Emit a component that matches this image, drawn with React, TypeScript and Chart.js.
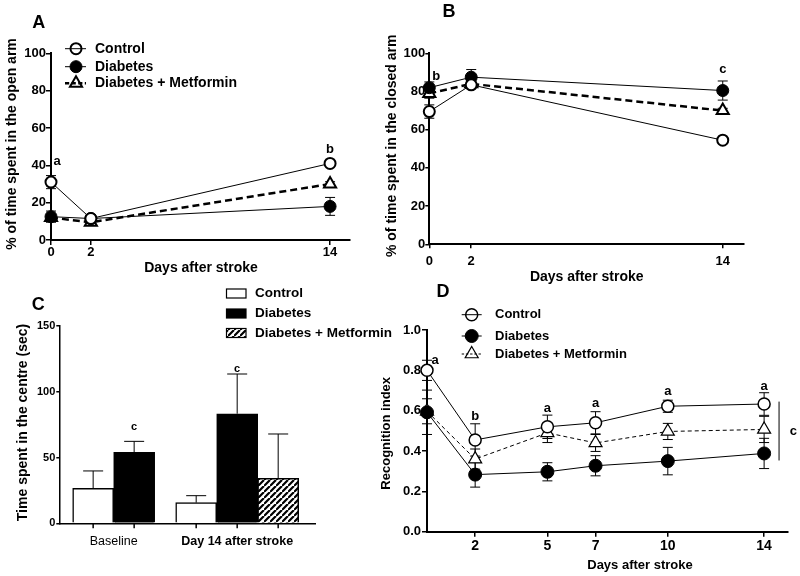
import React, { useEffect, useRef } from 'react';
import { Chart, registerables } from 'chart.js';

Chart.register(...registerables);

const FONT = "'Liberation Sans', Arial, Helvetica, sans-serif";
const W = 800;
const H = 576;

const seriesNames = ['Control', 'Diabetes', 'Diabetes + Metformin'];

// ---------- Panel A: % time in open arm ----------
const daysMaze = [0, 2, 14];
const openArmControl = [31, 11.5, 41];
const openArmControlErr = [3.5, 1.5, 1.2];
const openArmDiabetes = [12.5, 11.5, 18];
const openArmDiabetesErr = [3, 2, 4.8];
const openArmMetformin = [12, 9.5, 30];
const openArmMetforminErr = [1.5, 1.5, 1.2];
const lettersA = [
  { x: 0, y: 42, text: 'a', dx: 6 },
  { x: 14, y: 48.5, text: 'b' },
];

// ---------- Panel B: % time in closed arm ----------
const closedArmControl = [69.5, 83.5, 54.5];
const closedArmControlErr = [3.5, 2, 1.2];
const closedArmDiabetes = [82, 87.5, 80.5];
const closedArmDiabetesErr = [3, 4, 5];
const closedArmMetformin = [79, 84, 70];
const closedArmMetforminErr = [2.5, 2.5, 1.2];
const lettersB = [
  { x: 0, y: 88, text: 'b', dx: 7 },
  { x: 14, y: 91.6, text: 'c' },
];

// ---------- Panel C: time in centre ----------
const centreGroups = ['Baseline', 'Day 14 after stroke'];
const centreControl = [26.6, 15.7];
const centreControlErr = [13.2, 5.3];
const centreDiabetes = [54, 83.3];
const centreDiabetesErr = [8.3, 30.2];
const centreMetformin = [null, 34.2];
const centreMetforminErr = [null, 33.7];
const lettersC = [
  { group: 0, series: 1, y: 73, text: 'c' },
  { group: 1, series: 1, y: 117, text: 'c' },
];

// ---------- Panel D: recognition index ----------
const daysRecognition = [0, 2, 5, 7, 10, 14];
const recogControl = [0.8, 0.455, 0.52, 0.54, 0.622, 0.633];
const recogControlErr = [0.05, 0.08, 0.058, 0.055, 0.03, 0.056];
const recogDiabetes = [0.592, 0.283, 0.297, 0.327, 0.35, 0.388];
const recogDiabetesErr = [0.11, 0.062, 0.045, 0.05, 0.068, 0.075];
const recogMetformin = [0.597, 0.36, 0.49, 0.44, 0.497, 0.507];
const recogMetforminErr = [0.062, 0.05, 0.048, 0.042, 0.04, 0.065];
const lettersD = [
  { x: 0, y: 0.851, text: 'a', dx: 8 },
  { x: 2, y: 0.574, text: 'b' },
  { x: 5, y: 0.61, text: 'a' },
  { x: 7, y: 0.638, text: 'a' },
  { x: 10, y: 0.697, text: 'a' },
  { x: 14, y: 0.722, text: 'a' },
];
const bracketD = { x: 14.62, from: 0.353, to: 0.645, textX: 15.21, textY: 0.499, text: 'c' };

// ---------- helpers ----------
type Shape = 'circle' | 'triangle';
interface SeriesStyle { filled: boolean; shape: Shape; radius: number; pointBorder: number; lineWidth: number; dash: number[] }
interface TextItem { text: string; x: number; y: number; size: number; rotate?: boolean; bold?: boolean }
interface Area { l: number; t: number; r: number; b: number }

function drawText(ctx: CanvasRenderingContext2D, t: TextItem, align: CanvasTextAlign = 'center') {
  ctx.save();
  ctx.font = `${t.bold === false ? '' : 'bold '}${t.size}px ${FONT}`;
  ctx.fillStyle = '#000';
  ctx.textAlign = align;
  ctx.textBaseline = 'middle';
  ctx.translate(t.x, t.y);
  if (t.rotate) ctx.rotate(-Math.PI / 2);
  ctx.fillText(t.text, 0, 0);
  ctx.restore();
}

function drawMarker(ctx: CanvasRenderingContext2D, st: SeriesStyle, x: number, y: number, hollow: boolean) {
  ctx.save();
  ctx.setLineDash([]);
  ctx.beginPath();
  if (st.shape === 'circle') {
    ctx.arc(x, y, st.radius, 0, Math.PI * 2);
  } else {
    for (let k = 0; k < 3; k++) {
      const a = (k * 2 * Math.PI) / 3;
      const px = x + Math.sin(a) * st.radius;
      const py = y - Math.cos(a) * st.radius;
      if (k === 0) ctx.moveTo(px, py);
      else ctx.lineTo(px, py);
    }
    ctx.closePath();
  }
  if (st.filled) {
    ctx.fillStyle = '#000';
    ctx.fill();
  } else if (!hollow) {
    ctx.fillStyle = '#fff';
    ctx.fill();
  }
  ctx.lineWidth = st.pointBorder;
  ctx.strokeStyle = '#000';
  ctx.stroke();
  ctx.restore();
}

function padFor(area: Area, yW: number, xH: number) {
  return { left: area.l - yW, top: area.t, right: W - area.r, bottom: H - area.b - xH };
}

const boldFont = (size: number) => ({ family: FONT, size, weight: 'bold' as const });

const errorBarPlugin = {
  id: 'errorBars',
  beforeDatasetsDraw(chart: any) {
    const ctx: CanvasRenderingContext2D = chart.ctx;
    const ys = chart.scales.y;
    chart.data.datasets.forEach((ds: any, di: number) => {
      if (!ds.errorBars) return;
      const meta = chart.getDatasetMeta(di);
      const half = ds.capHalf ?? 5;
      ctx.save();
      ctx.strokeStyle = '#000';
      ctx.lineWidth = ds.errorWidth ?? 1;
      ctx.setLineDash([]);
      meta.data.forEach((el: any, i: number) => {
        const v = ds.data[i].y;
        const e = ds.errorBars[i];
        if (v == null || e == null) return;
        const x = el.x;
        const yTop = ys.getPixelForValue(v + e);
        const yBot = ys.getPixelForValue(ds.errorUpOnly ? v : v - e);
        ctx.beginPath();
        ctx.moveTo(x, yTop);
        ctx.lineTo(x, yBot);
        ctx.moveTo(x - half, yTop);
        ctx.lineTo(x + half, yTop);
        if (!ds.errorUpOnly) {
          ctx.moveTo(x - half, yBot);
          ctx.lineTo(x + half, yBot);
        }
        ctx.stroke();
      });
      ctx.restore();
    });
  },
};

function baseOptions(padding: any, scales: any) {
  return {
    responsive: false,
    maintainAspectRatio: false,
    animation: false,
    events: [],
    devicePixelRatio: 1,
    layout: { padding },
    plugins: { legend: { display: false }, tooltip: { enabled: false }, title: { display: false } },
    scales,
  };
}

interface LinePanelSpec {
  area: Area; yW: number; xH: number;
  xMax: number; xTicks: number[]; xFont: number; xTickLen: number; xPad: number;
  yMax: number; yStep: number; yFont: number; yTickLen: number; yPad: number; yDecimals?: number;
  axisWidth: number;
  days: number[]; values: number[][]; errors: number[][]; styles: SeriesStyle[]; capHalf: number;
  letters: { x: number; y: number; text: string; dx?: number }[]; letterSize: number;
  texts: TextItem[];
  legend?: { x0: number; x1: number; mx: number; tx: number; ys: number[]; size: number };
  bracket?: typeof bracketD;
}

function buildLine(canvas: HTMLCanvasElement, p: LinePanelSpec): Chart {
  const datasets = p.values.map((vals, si) => {
    const st = p.styles[si];
    return {
      label: seriesNames[si],
      data: p.days.map((d, i) => ({ x: d, y: vals[i] })),
      errorBars: p.errors[si],
      capHalf: p.capHalf,
      borderColor: '#000',
      borderWidth: st.lineWidth,
      borderDash: st.dash,
      pointStyle: st.shape,
      pointRadius: st.radius,
      pointBorderWidth: st.pointBorder,
      pointBackgroundColor: st.filled ? '#000' : '#fff',
      pointBorderColor: '#000',
      fill: false,
      tension: 0,
      clip: false,
    };
  });

  const decor = {
    id: 'decor',
    afterDraw(chart: any) {
      const ctx: CanvasRenderingContext2D = chart.ctx;
      const xs = chart.scales.x;
      const ys = chart.scales.y;
      p.texts.forEach((t) => drawText(ctx, t));
      p.letters.forEach((l) =>
        drawText(ctx, { text: l.text, x: xs.getPixelForValue(l.x) + (l.dx ?? 0), y: ys.getPixelForValue(l.y), size: p.letterSize }),
      );
      if (p.bracket) {
        const b = p.bracket;
        const bx = xs.getPixelForValue(b.x);
        ctx.save();
        ctx.strokeStyle = '#000';
        ctx.lineWidth = 1;
        ctx.beginPath();
        ctx.moveTo(bx, ys.getPixelForValue(b.to));
        ctx.lineTo(bx, ys.getPixelForValue(b.from));
        ctx.stroke();
        ctx.restore();
        drawText(ctx, { text: b.text, x: xs.getPixelForValue(b.textX), y: ys.getPixelForValue(b.textY), size: p.letterSize });
      }
      const lg = p.legend;
      if (!lg) return;
      p.styles.forEach((st, si) => {
        const y = lg.ys[si];
        ctx.save();
        ctx.strokeStyle = '#000';
        ctx.lineWidth = st.lineWidth;
        ctx.setLineDash(st.dash.length ? st.dash.map((d) => d * 0.6) : []);
        ctx.beginPath();
        ctx.moveTo(lg.x0, y);
        ctx.lineTo(lg.x1, y);
        ctx.stroke();
        ctx.restore();
        drawMarker(ctx, st, lg.mx, y, true);
        drawText(ctx, { text: seriesNames[si], x: lg.tx, y, size: lg.size }, 'left');
      });
    },
  };

  const yTicks: any = { stepSize: p.yStep, font: boldFont(p.yFont), color: '#000', padding: p.yPad };
  if (p.yDecimals !== undefined) {
    const dec = p.yDecimals;
    yTicks.callback = (v: number) => Number(v).toFixed(dec);
  }

  const scales = {
    x: {
      type: 'linear',
      min: 0,
      max: p.xMax,
      afterBuildTicks: (s: any) => {
        s.ticks = p.xTicks.map((v) => ({ value: v }));
      },
      afterFit: (s: any) => {
        s.height = p.xH;
      },
      ticks: { font: boldFont(p.xFont), color: '#000', padding: p.xPad, maxRotation: 0, autoSkip: false },
      grid: { display: true, drawOnChartArea: false, drawTicks: true, tickLength: p.xTickLen, color: '#000', lineWidth: 1.5 },
      border: { display: true, color: '#000', width: p.axisWidth },
    },
    y: {
      type: 'linear',
      min: 0,
      max: p.yMax,
      afterFit: (s: any) => {
        s.width = p.yW;
      },
      ticks: yTicks,
      grid: { display: true, drawOnChartArea: false, drawTicks: true, tickLength: p.yTickLen, color: '#000', lineWidth: 1.5 },
      border: { display: true, color: '#000', width: p.axisWidth },
    },
  };

  return new Chart(canvas, {
    type: 'line',
    data: { datasets } as any,
    options: baseOptions(padFor(p.area, p.yW, p.xH), scales) as any,
    plugins: [errorBarPlugin, decor],
  });
}

const styleMaze: SeriesStyle[] = [
  { filled: false, shape: 'circle', radius: 5.5, pointBorder: 2, lineWidth: 1, dash: [] },
  { filled: true, shape: 'circle', radius: 6, pointBorder: 1, lineWidth: 1, dash: [] },
  { filled: false, shape: 'triangle', radius: 7, pointBorder: 2, lineWidth: 2.5, dash: [7, 4] },
];

const styleRecog: SeriesStyle[] = [
  { filled: false, shape: 'circle', radius: 6, pointBorder: 1.5, lineWidth: 1, dash: [] },
  { filled: true, shape: 'circle', radius: 6.5, pointBorder: 1, lineWidth: 1, dash: [] },
  { filled: false, shape: 'triangle', radius: 7.5, pointBorder: 1.2, lineWidth: 1, dash: [4, 3] },
];

function buildA(canvas: HTMLCanvasElement) {
  return buildLine(canvas, {
    area: { l: 51, t: 53.3, r: 350, b: 240 }, yW: 51, xH: 30,
    xMax: 15, xTicks: daysMaze, xFont: 13, xTickLen: 5, xPad: 0,
    yMax: 100, yStep: 20, yFont: 13, yTickLen: 5, yPad: 0,
    axisWidth: 2,
    days: daysMaze,
    values: [openArmControl, openArmDiabetes, openArmMetformin],
    errors: [openArmControlErr, openArmDiabetesErr, openArmMetforminErr],
    styles: styleMaze, capHalf: 5,
    letters: lettersA, letterSize: 13,
    texts: [
      { text: 'A', x: 38.8, y: 23, size: 18 },
      { text: '% of time spent in the open arm', x: 12, y: 144, size: 14, rotate: true },
      { text: 'Days after stroke', x: 201, y: 268.3, size: 14 },
    ],
    legend: { x0: 65, x1: 86, mx: 76, tx: 95, ys: [48.7, 66.7, 83.3], size: 14 },
  });
}

function buildB(canvas: HTMLCanvasElement) {
  return buildLine(canvas, {
    area: { l: 429.3, t: 53.3, r: 743.7, b: 244.3 }, yW: 40, xH: 30,
    xMax: 15, xTicks: daysMaze, xFont: 13, xTickLen: 4, xPad: 5,
    yMax: 100, yStep: 20, yFont: 13, yTickLen: 4, yPad: 0,
    axisWidth: 2,
    days: daysMaze,
    values: [closedArmControl, closedArmDiabetes, closedArmMetformin],
    errors: [closedArmControlErr, closedArmDiabetesErr, closedArmMetforminErr],
    styles: styleMaze, capHalf: 5,
    letters: lettersB, letterSize: 13,
    texts: [
      { text: 'B', x: 449, y: 12.5, size: 18 },
      { text: '% of time spent in the closed arm', x: 392.5, y: 145.8, size: 14, rotate: true },
      { text: 'Days after stroke', x: 586.7, y: 276.7, size: 14 },
    ],
  });
}

function buildD(canvas: HTMLCanvasElement) {
  return buildLine(canvas, {
    area: { l: 427, t: 330, r: 788.2, b: 531.7 }, yW: 40, xH: 30,
    xMax: 15, xTicks: daysRecognition.filter((d) => d > 0), xFont: 14, xTickLen: 5, xPad: 1,
    yMax: 1, yStep: 0.2, yFont: 13, yTickLen: 5, yPad: 1, yDecimals: 1,
    axisWidth: 2,
    days: daysRecognition,
    values: [recogControl, recogDiabetes, recogMetformin],
    errors: [recogControlErr, recogDiabetesErr, recogMetforminErr],
    styles: styleRecog, capHalf: 5,
    letters: lettersD, letterSize: 13,
    bracket: bracketD,
    texts: [
      { text: 'D', x: 443, y: 291.7, size: 18 },
      { text: 'Recognition index', x: 386.7, y: 433.3, size: 13, rotate: true },
      { text: 'Days after stroke', x: 640, y: 565, size: 13 },
    ],
    legend: { x0: 461.7, x1: 481.7, mx: 471.7, tx: 495, ys: [314.7, 336, 354], size: 13 },
  });
}

function makeHatch(): CanvasPattern | string {
  const s = 6;
  const c = document.createElement('canvas');
  c.width = s;
  c.height = s;
  const g = c.getContext('2d');
  if (!g) return '#888';
  g.fillStyle = '#fff';
  g.fillRect(0, 0, s, s);
  g.strokeStyle = '#000';
  g.lineWidth = 2.2;
  g.beginPath();
  g.moveTo(-1, s + 1);
  g.lineTo(s + 1, -1);
  g.moveTo(-s, s);
  g.lineTo(0, 0);
  g.moveTo(s, 2 * s);
  g.lineTo(2 * s, s);
  g.stroke();
  return g.createPattern(c, 'repeat') || '#888';
}

function buildC(canvas: HTMLCanvasElement) {
  const area = { l: 59.3, t: 326, r: 315, b: 523.3 };
  const yW = 40;
  const xH = 30;
  const hatch = makeHatch();
  const fills: any[] = ['#fff', '#000', hatch];
  const vals = [centreControl, centreDiabetes, centreMetformin];
  const errs = [centreControlErr, centreDiabetesErr, centreMetforminErr];
  const datasets = vals.map((v, si) => ({
    label: seriesNames[si],
    data: v.map((y, i) => ({ x: i, y })),
    errorBars: errs[si],
    errorUpOnly: true,
    capHalf: 10,
    backgroundColor: fills[si],
    borderColor: '#000',
    borderWidth: 1.5,
    borderSkipped: 'bottom',
    barThickness: 41,
    skipNull: true,
  }));

  const decor = {
    id: 'decorC',
    afterDraw(chart: any) {
      const ctx: CanvasRenderingContext2D = chart.ctx;
      const ys = chart.scales.y;
      const base = ys.getPixelForValue(0);
      ctx.save();
      ctx.strokeStyle = '#000';
      ctx.lineWidth = 1.5;
      chart.data.datasets.forEach((ds: any, di: number) => {
        chart.getDatasetMeta(di).data.forEach((el: any, i: number) => {
          if (ds.data[i].y == null) return;
          ctx.beginPath();
          ctx.moveTo(el.x, base);
          ctx.lineTo(el.x, base + 5);
          ctx.stroke();
        });
      });
      ctx.restore();
      lettersC.forEach((l) => {
        const el = chart.getDatasetMeta(l.series).data[l.group];
        drawText(ctx, { text: l.text, x: el.x, y: ys.getPixelForValue(l.y), size: 11 });
      });
      drawText(ctx, { text: 'C', x: 38.3, y: 305, size: 18 });
      drawText(ctx, { text: 'Time spent in the centre (sec)', x: 23.3, y: 422.5, size: 14, rotate: true });
      const ly = [293.5, 313.5, 333];
      fills.forEach((f, si) => {
        ctx.save();
        ctx.fillStyle = f;
        ctx.fillRect(226.5, ly[si] - 4.5, 19.5, 9);
        ctx.strokeStyle = '#000';
        ctx.lineWidth = 1.2;
        ctx.strokeRect(226.5, ly[si] - 4.5, 19.5, 9);
        ctx.restore();
        drawText(ctx, { text: seriesNames[si], x: 255, y: ly[si], size: 13.5 }, 'left');
      });
    },
  };

  const scales = {
    x: {
      type: 'linear',
      offset: false,
      min: -0.44,
      max: 1.63,
      afterBuildTicks: (s: any) => {
        s.ticks = centreGroups.map((_, i) => ({ value: i }));
      },
      afterFit: (s: any) => {
        s.height = xH;
      },
      ticks: {
        callback: (v: number) => centreGroups[v] ?? '',
        font: (c: any) => ({ family: FONT, size: 12.5, weight: c.index === 1 ? 'bold' : 'normal' }),
        color: '#000',
        padding: 11,
        maxRotation: 0,
        autoSkip: false,
      },
      grid: { display: true, offset: false, drawOnChartArea: false, drawTicks: false },
      border: { display: true, color: '#000', width: 1.5 },
    },
    y: {
      type: 'linear',
      min: 0,
      max: 150,
      afterFit: (s: any) => {
        s.width = yW;
      },
      ticks: { stepSize: 50, font: boldFont(11), color: '#000', padding: 1 },
      grid: { display: true, drawOnChartArea: false, drawTicks: true, tickLength: 3, color: '#000', lineWidth: 1.5 },
      border: { display: true, color: '#000', width: 1.5 },
    },
  };

  return new Chart(canvas, {
    type: 'bar',
    data: { datasets } as any,
    options: baseOptions(padFor(area, yW, xH), scales) as any,
    plugins: [errorBarPlugin, decor],
  });
}

function ChartCanvas({ build }: { build: (c: HTMLCanvasElement) => Chart }) {
  const ref = useRef<HTMLCanvasElement>(null);
  useEffect(() => {
    if (!ref.current) return;
    const chart = build(ref.current);
    return () => chart.destroy();
  }, [build]);
  return (
    <canvas
      ref={ref}
      width={W}
      height={H}
      style={{ position: 'absolute', left: 0, top: 0, width: W, height: H }}
    />
  );
}

export default function App() {
  return (
    <div style={{ position: 'absolute', left: 0, top: 0, width: W, height: H, background: '#fff', overflow: 'hidden' }}>
      <ChartCanvas build={buildA} />
      <ChartCanvas build={buildB} />
      <ChartCanvas build={buildC} />
      <ChartCanvas build={buildD} />
    </div>
  );
}
